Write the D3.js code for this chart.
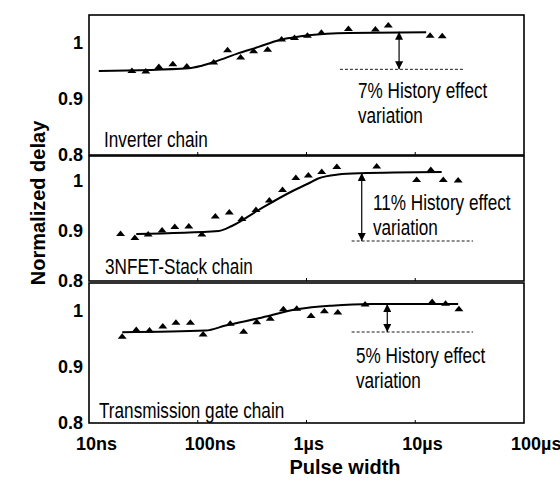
<!DOCTYPE html>
<html>
<head>
<meta charset="utf-8">
<script src="https://cdn.jsdelivr.net/npm/d3@7"></script>
<style>
  body { margin: 0; background: #fff; }
  text { font-family: "Liberation Sans", Arial, sans-serif; fill: #000; }
</style>
</head>
<body>
<div id="chart"></div>
<script>
const width = 560;
const height = 481;

// pulse widths in seconds, delays normalized
const tickVals = [1e-8, 1e-7, 1e-6, 1e-5, 1e-4];
const tickLabels = ["10ns", "100ns", "1\u00b5s", "10\u00b5s", "100\u00b5s"];
const yTicks = [0.8, 0.9, 1];

// inverter chain
const invT = [24.8e-9, 33.3e-9, 43.9e-9, 59e-9, 79.3e-9, 140e-9, 188e-9, 248e-9, 326e-9, 439e-9,
  590e-9, 776e-9, 1.02e-6, 1.37e-6, 2.43e-6, 4.3e-6, 5.65e-6, 13.7e-6, 17.7e-6];
const invV = [0.951, 0.95, 0.958, 0.963, 0.959, 0.966, 0.988, 0.975, 0.986, 0.989,
  1.007, 1.01, 1.014, 1.019, 1.026, 1.025, 1.032, 1.014, 1.013];
const invFitT = [12.3e-9, 82.7e-9, 109e-9, 146e-9, 238e-9, 363e-9, 553e-9, 728e-9, 1.04e-6, 2.43e-6, 12.6e-6];
const invFitV = [0.95, 0.955, 0.9595, 0.967, 0.982, 0.993, 1.005, 1.0095, 1.014, 1.018, 1.019];

// 3NFET-stack chain
const stackT = [19.5e-9, 26.4e-9, 35e-9, 47e-9, 61.5e-9, 82.7e-9, 109e-9, 145e-9, 195e-9, 255e-9, 343e-9,
  455e-9, 602e-9, 798e-9, 1.04e-6, 1.38e-6, 1.9e-6, 4.42e-6, 10.3e-6, 13.9e-6, 18.1e-6, 24.8e-6];
const stackV = [0.895, 0.887, 0.894, 0.902, 0.909, 0.91, 0.894, 0.93, 0.938, 0.925, 0.943,
  0.962, 0.983, 1.007, 1.012, 1.019, 1.029, 1.03, 1.003, 1.023, 1.003, 1.002];
const stackFitT = [27.2e-9, 156e-9, 206e-9, 363e-9, 730e-9, 1.04e-6, 1.28e-6, 1.95e-6, 3.1e-6, 17.5e-6];
const stackFitV = [0.894, 0.9, 0.91, 0.942, 0.979, 0.995, 1.005, 1.013, 1.0155, 1.018];

// transmission gate chain
const tgT = [20.2e-9, 27.2e-9, 36e-9, 47.7e-9, 63e-9, 85.6e-9, 112e-9, 199e-9, 264e-9, 349e-9, 464e-9,
  613e-9, 813e-9, 1.1e-6, 1.46e-6, 1.94e-6, 3.46e-6, 14.3e-6, 19e-6, 25.2e-6];
const tgV = [0.955, 0.967, 0.966, 0.973, 0.98, 0.98, 0.959, 0.978, 0.964, 0.981, 0.987,
  1.004, 1.005, 0.992, 1.0005, 0.998, 1.0125, 1.017, 1.014, 1.004];
const tgFitT = [20.2e-9, 118e-9, 180e-9, 363e-9, 845e-9, 1.7e-6, 3.95e-6, 24.8e-6];
const tgFitV = [0.962, 0.965, 0.974, 0.987, 1.0035, 1.0095, 1.0125, 1.0125];

// history effect annotations: arrow position, top/bottom levels, dashed extent
const annT = [7.1e-6, 3.22e-6, 5.53e-6];
const annTop = [1.02, 1.016, 1.0125];
const annBottom = [0.953, 0.88, 0.9625];
const dashFrom = [2.03e-6, 2.6e-6, 2.6e-6];
const dashTo = [27.5e-6, 34e-6, 34e-6];
const annText = ["7% History effect", "11% History effect", "5% History effect"];
const chainNames = ["Inverter chain", "3NFET-Stack chain", "Transmission gate chain"];

const panels = [
  { t: invT, v: invV, ft: invFitT, fv: invFitV, top: 15, bottom: 155, text: [358, 98], label: [104, 147] },
  { t: stackT, v: stackV, ft: stackFitT, fv: stackFitV, top: 156, bottom: 281, text: [373, 210], label: [105, 274] },
  { t: tgT, v: tgV, ft: tgFitT, fv: tgFitV, top: 283, bottom: 423, text: [356, 363], label: [99, 418] }
];

const left = 89, right = 524;

let x = d3.scaleLog()
  .domain([1e-8, 1e-4])
  .range([left, right]);

const svg = d3.select("#chart")
  .append("svg")
  .attr("width", width)
  .attr("height", height);

const defs = svg.append("defs");
defs.append("marker")
  .attr("id", "head")
  .attr("markerUnits", "userSpaceOnUse")
  .attr("viewBox", "0 0 10 10")
  .attr("refX", 10).attr("refY", 5)
  .attr("markerWidth", 10).attr("markerHeight", 8)
  .attr("orient", "auto-start-reverse")
  .append("path")
  .attr("d", "M0,0L10,5L0,10Z")
  .attr("fill", "#000");

// condensed text, as in the scanned figure
function ctext(g, px, py, s, size) {
  return g.append("text")
    .attr("transform", `translate(${px},${py}) scale(0.78,1)`)
    .style("font-size", size + "px")
    .text(s);
}

const tri = "M0,-3L4.5,2.5L-4.5,2.5Z";

panels.forEach((p, i) => {
  let y = d3.scaleLinear()
    .domain([0.8, 1.05])
    .range([p.bottom, p.top]);

  const g = svg.append("g");

  g.append("rect")
    .attr("x", left).attr("y", p.top)
    .attr("width", right - left).attr("height", p.bottom - p.top)
    .attr("fill", "none").attr("stroke", "#000").attr("stroke-width", 1.6);

  // small inward ticks
  g.selectAll(".tk")
    .data(tickVals.slice(1, 4)).enter()
    .append("line")
    .attr("x1", d => x(d)).attr("x2", d => x(d))
    .attr("y1", p.bottom).attr("y2", p.bottom - 3)
    .attr("stroke", "#000").attr("stroke-width", 1);

  g.selectAll(".yl")
    .data(yTicks).enter()
    .append("text")
    .attr("x", 83)
    .attr("y", d => y(d))
    .attr("dy", "0.36em")
    .attr("text-anchor", "end")
    .style("font-size", "18px")
    .style("font-weight", "bold")
    .text(d => d === 1 ? "1" : d.toFixed(1));

  const line = d3.line()
    .x((d, j) => x(p.ft[j]))
    .y(d => y(d))
    .curve(d3.curveMonotoneX);

  g.append("path")
    .attr("d", line(p.fv))
    .attr("fill", "none")
    .attr("stroke", "#000")
    .attr("stroke-width", 2);

  g.selectAll(".pt")
    .data(p.v).enter()
    .append("path")
    .attr("d", tri)
    .attr("transform", (d, j) => `translate(${x(p.t[j])},${y(d)})`)
    .attr("fill", "#000");

  g.append("line")
    .attr("x1", x(dashFrom[i])).attr("x2", x(dashTo[i]))
    .attr("y1", y(annBottom[i])).attr("y2", y(annBottom[i]))
    .attr("stroke", "#000").attr("stroke-width", 0.9)
    .attr("stroke-dasharray", "3,2");

  g.append("line")
    .attr("x1", x(annT[i])).attr("x2", x(annT[i]))
    .attr("y1", y(annTop[i])).attr("y2", y(annBottom[i]))
    .attr("stroke", "#000").attr("stroke-width", 1.2)
    .attr("marker-start", "url(#head)")
    .attr("marker-end", "url(#head)");

  ctext(g, p.text[0], p.text[1], annText[i], 22);
  ctext(g, p.text[0], p.text[1] + 25, "variation", 22);
  ctext(g, p.label[0], p.label[1], chainNames[i], 22);
});

svg.selectAll(".xl")
  .data(tickVals).enter()
  .append("text")
  .attr("x", d => x(d) - 13)
  .attr("y", 450)
  .style("font-size", "18px")
  .style("font-weight", "bold")
  .text((d, i) => tickLabels[i]);

svg.append("text")
  .attr("x", 345)
  .attr("y", 474)
  .attr("text-anchor", "middle")
  .style("font-size", "20px")
  .style("font-weight", "bold")
  .text("Pulse width");

svg.append("text")
  .attr("transform", "rotate(-90)")
  .attr("x", -203)
  .attr("y", 45)
  .attr("text-anchor", "middle")
  .style("font-size", "20px")
  .style("font-weight", "bold")
  .text("Normalized delay");
</script>
</body>
</html>
